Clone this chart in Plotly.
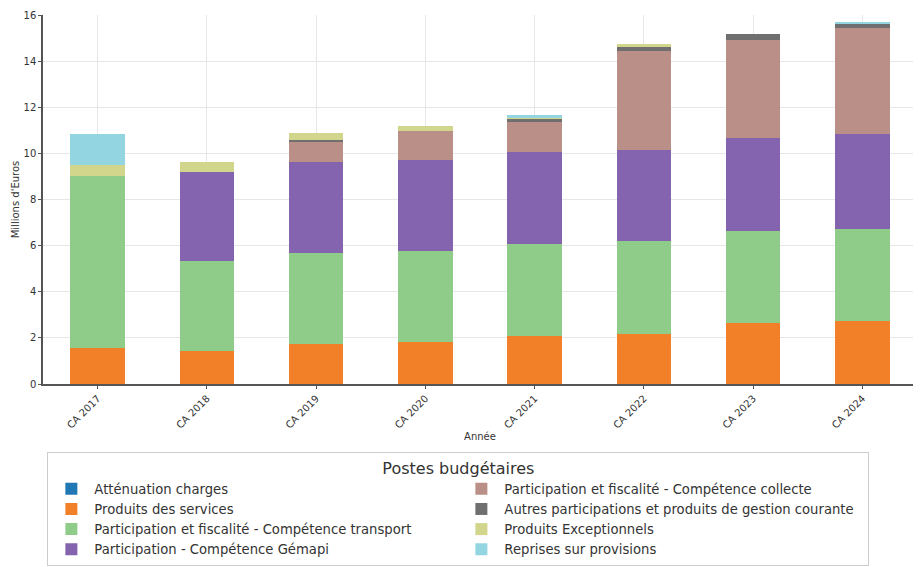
import plotly.graph_objects as go

categories = ["CA 2017", "CA 2018", "CA 2019", "CA 2020", "CA 2021", "CA 2022", "CA 2023", "CA 2024"]

attenuation = [0.0, 0.0, 0.0, 0.0, 0.0, 0.0, 0.0, 0.0]
produits_services = [1.54, 1.43, 1.74, 1.80, 2.07, 2.17, 2.64, 2.74]
transport = [7.50, 3.89, 3.94, 3.95, 4.01, 4.01, 4.00, 4.00]
gemapi = [0.0, 3.89, 3.93, 3.97, 3.98, 3.98, 4.02, 4.08]
collecte = [0.0, 0.0, 0.90, 1.26, 1.29, 4.29, 4.27, 4.61]
autres = [0.0, 0.0, 0.05, 0.0, 0.15, 0.20, 0.26, 0.21]
exceptionnels = [0.47, 0.43, 0.34, 0.22, 0.03, 0.08, 0.0, 0.0]
reprises = [1.34, 0.0, 0.0, 0.0, 0.13, 0.0, 0.0, 0.02]

series = [
    ("Atténuation charges", attenuation, "#1f77b4", 1),
    ("Produits des services", produits_services, "#f28029", 3),
    ("Participation et fiscalité - Compétence transport", transport, "#8fcc8a", 5),
    ("Participation - Compétence Gémapi", gemapi, "#8464ae", 7),
    ("Participation et fiscalité - Compétence collecte", collecte, "#b98f88", 2),
    ("Autres participations et produits de gestion courante", autres, "#6f6f6f", 4),
    ("Produits Exceptionnels", exceptionnels, "#d2d68c", 6),
    ("Reprises sur provisions", reprises, "#93d6e2", 8),
]

fig = go.Figure()
for name, vals, color, rank in series:
    fig.add_trace(go.Bar(
        x=categories, y=vals, name=name, marker=dict(color=color, line=dict(width=0)),
        width=0.5, legendrank=rank,
    ))

fig.update_layout(
    barmode="stack",
    width=913, height=559,
    margin=dict(l=35, r=4, t=7, b=183, autoexpand=False),
    paper_bgcolor="white", plot_bgcolor="white",
    font=dict(family="DejaVu Sans", color="#333333"),
    xaxis=dict(
        range=[-0.5, 7.5], tickangle=-45, tickfont=dict(size=10, color="#333333"),
        showgrid=True, gridcolor="#e6e6e6", gridwidth=1,
        showline=True, linecolor="#555555", linewidth=1.5,
        ticks="outside", ticklen=3, tickcolor="#555555",
        title=dict(text="Année", font=dict(size=10), standoff=3),
    ),
    yaxis=dict(
        range=[0, 16], dtick=2, tickfont=dict(size=10, color="#333333"),
        showgrid=True, gridcolor="#e6e6e6", gridwidth=1,
        showline=True, linecolor="#555555", linewidth=1.5,
        ticks="outside", ticklen=3, tickcolor="#555555", zeroline=False,
        ticklabeloverflow="allow",
        title=dict(text="Millions d'Euros", font=dict(size=10), standoff=2),
    ),
    legend=dict(
        orientation="h", x=0.005, xanchor="left", y=-0.184, yanchor="top",
        entrywidth=359, entrywidthmode="pixels", traceorder="normal",
        title=dict(text="Postes budgétaires", side="top center", font=dict(size=16)),
        font=dict(size=13.2, color="#333333"),
        bordercolor="#cccccc", borderwidth=1, bgcolor="white",
        itemwidth=36,
    ),
)

fig.write_html("out.html")
